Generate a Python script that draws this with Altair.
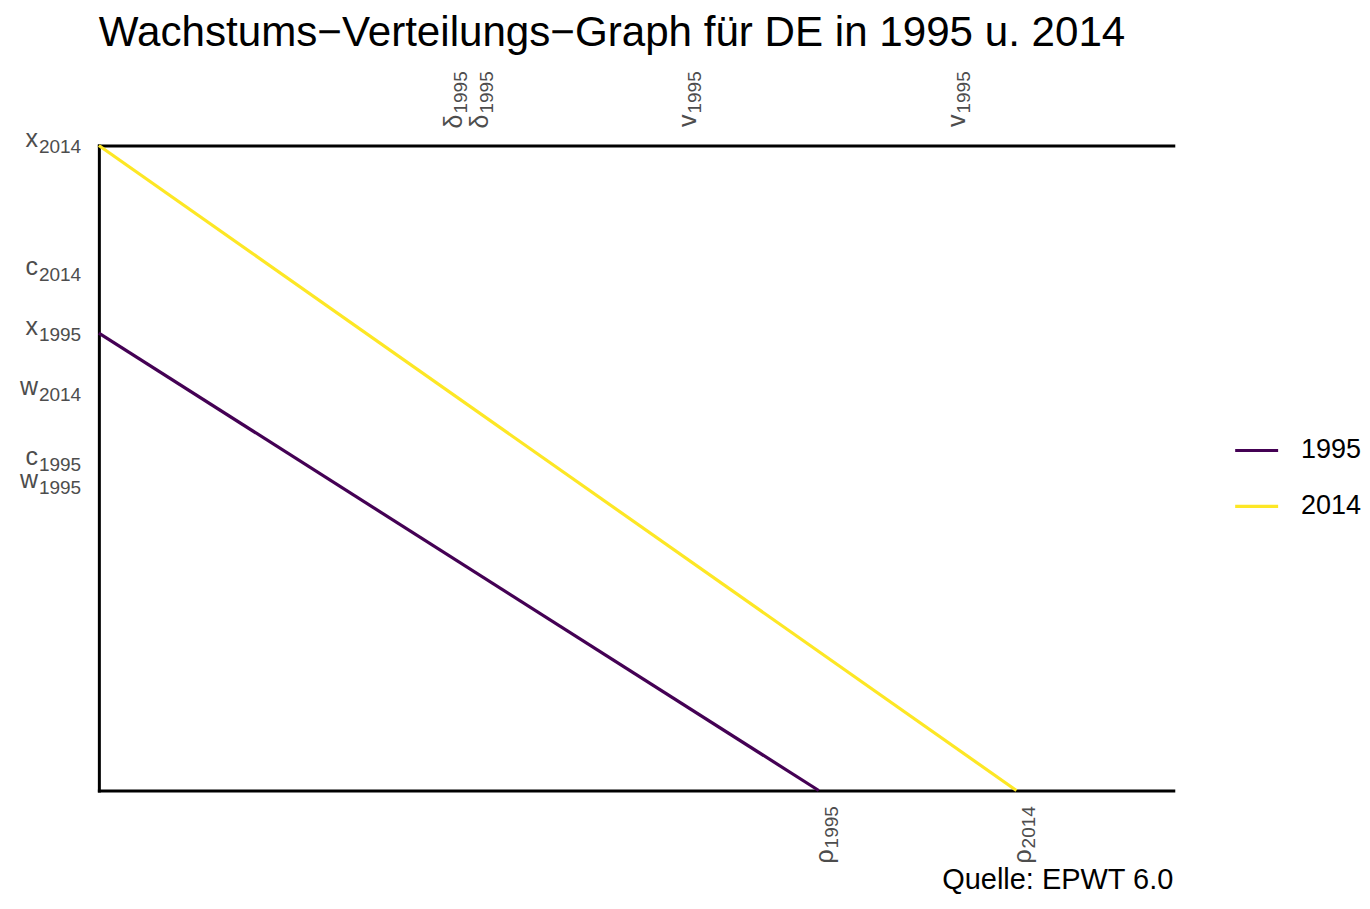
import altair as alt
import pandas as pd

FONT = "Liberation Sans"
GRAY = "#4D4D4D"

# ---- data (normalised units: x2014 = 1, max profit rate axis = 1)
years = ["1995", "2014"]
colors = ["#440154", "#FDE725"]
output_per_worker = [0.709, 1.0]     # x_1995, x_2014 (y-intercepts)
max_profit_rate = [0.670, 0.854]     # rho_1995, rho_2014 (x-intercepts)

y_tick_letters = ["x", "c", "x", "w", "c", "w"]
y_tick_subs = ["2014", "2014", "1995", "2014", "1995", "1995"]
y_tick_values = [1.0, 0.803, 0.709, 0.616, 0.508, 0.472]

top_tick_letters = ["δ", "δ", "v", "v"]
top_tick_subs = ["1995", "1995", "1995", "1995"]
top_tick_values = [0.325, 0.349, 0.543, 0.793]

bottom_tick_letters = ["ρ", "ρ"]
bottom_tick_subs = ["1995", "2014"]
bottom_tick_values = max_profit_rate

title_text = "Wachstums−Verteilungs−Graph für DE in 1995 u. 2014"
caption_text = ["Quelle: EPWT 6.0"]

W, H = 1076, 646

# ---- tables
line_rows = []
for yr, xv, rv in zip(years, output_per_worker, max_profit_rate):
    line_rows.append({"year": yr, "rho": 0.0, "y": xv})
    line_rows.append({"year": yr, "rho": rv, "y": 0.0})
lines_df = pd.DataFrame(line_rows)

ydf = pd.DataFrame({"letter": y_tick_letters, "sub": y_tick_subs, "value": y_tick_values})
tdf = pd.DataFrame({"letter": top_tick_letters, "sub": top_tick_subs, "value": top_tick_values})
bdf = pd.DataFrame({"letter": bottom_tick_letters, "sub": bottom_tick_subs, "value": bottom_tick_values})
cdf = pd.DataFrame({"text": caption_text})

xscale = alt.Scale(domain=[0, 1], nice=False, zero=True)
yscale = alt.Scale(domain=[0, 1], nice=False, zero=True)

frame_axis = dict(title=None, labels=False, ticks=False, grid=False,
                  domainColor="black", domainWidth=3, domainCap="square")
y_axis = alt.Axis(orient="left", **frame_axis)

lines = alt.Chart(lines_df).mark_line(strokeWidth=3.2).encode(
    x=alt.X("rho:Q", scale=xscale, axis=alt.Axis(orient="bottom", **frame_axis)),
    y=alt.Y("y:Q", scale=yscale, axis=y_axis),
    color=alt.Color(
        "year:N",
        scale=alt.Scale(domain=years, range=colors),
        legend=alt.Legend(
            title=None, orient="none", legendX=1136, legendY=282,
            symbolType="stroke", symbolSize=1850, symbolStrokeWidth=3.2,
            labelFontSize=27, labelFont=FONT, labelColor="black",
            labelOffset=21, rowPadding=19, padding=0,
        ),
    ),
)

MAIN_FS = 25
SUB_FS = 19

# y-axis labels (letter + subscript)
ylab_main = alt.Chart(ydf).mark_text(
    align="right", baseline="alphabetic", fontSize=MAIN_FS, font=FONT, color=GRAY, dy=2
).encode(x=alt.value(-61), y=alt.Y("value:Q", scale=yscale, axis=y_axis), text="letter:N")
ylab_sub = alt.Chart(ydf).mark_text(
    align="left", baseline="alphabetic", fontSize=SUB_FS, font=FONT, color=GRAY, dy=8
).encode(x=alt.value(-60), y=alt.Y("value:Q", scale=yscale, axis=y_axis), text="sub:N")

# bottom labels (rotated)
blab_main = alt.Chart(bdf).mark_text(
    align="right", baseline="alphabetic", angle=270, fontSize=MAIN_FS, font=FONT, color=GRAY, dy=14.5
).encode(x=alt.X("value:Q", scale=xscale, axis=None), y=alt.value(H + 59), text="letter:N")
blab_sub = alt.Chart(bdf).mark_text(
    align="left", baseline="alphabetic", angle=270, fontSize=SUB_FS, font=FONT, color=GRAY, dy=19
).encode(x=alt.X("value:Q", scale=xscale, axis=None), y=alt.value(H + 58), text="sub:N")

# top labels (rotated) - this layer also carries the top frame line
tlab_main = alt.Chart(tdf).mark_text(
    align="right", baseline="alphabetic", angle=270, fontSize=MAIN_FS, font=FONT, color=GRAY, dy=14
).encode(x=alt.X("value:Q", scale=xscale, axis=alt.Axis(orient="top", **frame_axis)),
         y=alt.value(-31), text="letter:N")
tlab_sub = alt.Chart(tdf).mark_text(
    align="left", baseline="alphabetic", angle=270, fontSize=SUB_FS, font=FONT, color=GRAY, dy=19
).encode(x=alt.X("value:Q", scale=xscale, axis=None), y=alt.value(-32), text="sub:N")

caption = alt.Chart(cdf).mark_text(
    align="right", baseline="alphabetic", fontSize=29, font=FONT, color="black"
).encode(x=alt.value(W), y=alt.value(H + 99), text="text:N")

chart = alt.layer(
    lines, ylab_main, ylab_sub, blab_main, blab_sub, tlab_main, tlab_sub, caption
).resolve_axis(x="independent").properties(
    width=W, height=H,
    background="white",
    title=alt.TitleParams(title_text, anchor="start", frame="group", fontSize=42.2,
                          font=FONT, fontWeight="normal", color="black", offset=16),
    autosize=alt.AutoSizeParams(type="none"),
    padding={"left": 91, "top": 137, "right": 189, "bottom": 104},
).configure_view(stroke=None, strokeWidth=0)

chart.save("out.html", embed_options={"renderer": "svg", "actions": False})
